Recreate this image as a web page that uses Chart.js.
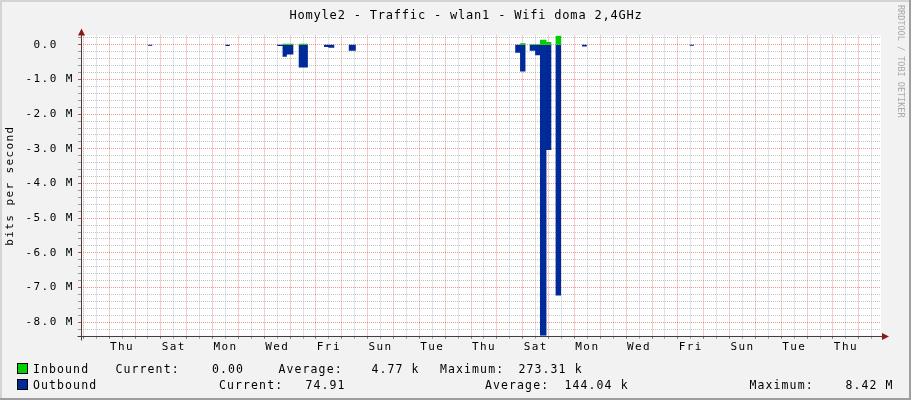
<!DOCTYPE html>
<html>
<head>
<meta charset="utf-8">
<title>Homyle2 - Traffic - wlan1</title>
<script src="https://cdn.jsdelivr.net/npm/chart.js@4.4.1/dist/chart.umd.min.js"></script>
<style>
  html, body { margin: 0; padding: 0; background: #f2f2f2; }
  #wrap { position: relative; width: 911px; height: 400px; }
</style>
</head>
<body>
<div id="wrap"><canvas id="traffic" width="911" height="400"></canvas></div>
<script>
// x is in hours counted from the first midnight (a Wednesday); ~31 days shown
const X_MIN = -2.14;
const X_MAX = 740.6;
const Y_MIN = -8.39e6;
const Y_MAX = 0.2733e6;
const Y_STEP = 200000;

// one label every second day, centred on noon
const DAY_LABELS = ['Thu', 'Sat', 'Mon', 'Wed', 'Fri', 'Sun', 'Tue', 'Thu', 'Sat', 'Mon', 'Wed', 'Fri', 'Sun', 'Tue', 'Thu'];

// Inbound, bits/s, each value held from start hour to end hour
const IN_START = [185, 200, 405.5, 414.5, 424, 430, 438.5];
const IN_END   = [195, 208.5, 410.5, 424, 430, 434.5, 443.5];
const IN_VALUE = [30000, 30000, 50000, 20000, 150000, 80000, 273310];

// Outbound, bits/s, drawn below zero
const OUT_START = [60, 132, 180, 185, 189, 200, 223.5, 227.5, 246.5, 401, 405.5, 414.5, 419.5, 424, 430, 438.5, 463, 563];
const OUT_END   = [64, 136, 185, 189, 195, 208.5, 227.5, 233, 253, 405.5, 410.5, 419.5, 424, 430, 434.5, 443.5, 467.5, 567];
const OUT_VALUE = [-25000, -30000, -30000, -340000, -280000, -650000, -60000, -85000, -170000,
                   -230000, -770000, -170000, -300000, -8420000, -3030000, -7230000, -50000, -25000];

const TITLE = 'Homyle2 - Traffic - wlan1 - Wifi doma 2,4GHz';
const LEGEND_IN  = ['Inbound', 'Current:', '0.00', 'Average:', '4.77 k', 'Maximum:', '273.31 k'];
const LEGEND_OUT = ['Outbound', 'Current:', '74.91', 'Average:', '144.04 k', 'Maximum:', '8.42 M'];

// layout of the rrdtool style legend (left edge of each text piece)
const LEGEND_IN_X  = [33, 115.5, 212, 278.5, 371.5, 440, 518.5];
const LEGEND_OUT_X = [33, 219, 305.5, 485, 564.5, 749.5, 845.5];

const FONT = 'DejaVu Sans Mono';
const IN_COLOR = '#00CF00';
const OUT_COLOR = '#002A97';
const MAJOR = 'rgba(232,80,80,0.6)';
const MINOR = 'rgba(140,140,140,0.5)';

function stepPoints(starts, ends, values) {
  const pts = [{ x: X_MIN, y: 0 }];
  starts.forEach((s, i) => {
    pts.push({ x: s, y: 0 }, { x: s, y: values[i] }, { x: ends[i], y: values[i] }, { x: ends[i], y: 0 });
  });
  pts.push({ x: X_MAX, y: 0 });
  return pts;
}

const isMillion = v => Math.abs(v / 1e6 - Math.round(v / 1e6)) < 1e-6;

const rrdLook = {
  id: 'rrdLook',
  beforeDraw(chart) {
    const { ctx, width, height, chartArea: a } = chart;
    ctx.save();
    ctx.fillStyle = '#f2f2f2';
    ctx.fillRect(0, 0, width, height);
    ctx.fillStyle = '#d4d4d4';
    ctx.fillRect(0, 0, width, 2);
    ctx.fillRect(0, 0, 2, height);
    ctx.fillStyle = '#9e9e9e';
    ctx.fillRect(width - 2, 0, 2, height);
    ctx.fillRect(0, height - 2, width, 2);
    ctx.fillStyle = '#ffffff';
    ctx.fillRect(a.left, a.top, a.right - a.left, a.bottom - a.top);
    ctx.restore();
    ctx.letterSpacing = '1.4px';
  },
  afterDraw(chart) {
    const { ctx, width, chartArea: a } = chart;
    ctx.letterSpacing = '0px';
    ctx.save();
    // axes with arrows
    const ax = Math.round(a.left) + 0.5;
    const ay = Math.round(a.bottom) + 0.5;
    ctx.strokeStyle = '#404040';
    ctx.lineWidth = 1;
    ctx.beginPath();
    ctx.moveTo(ax, a.top - 2);
    ctx.lineTo(ax, ay + 4);
    ctx.moveTo(ax - 4, ay);
    ctx.lineTo(a.right + 2, ay);
    ctx.stroke();
    ctx.fillStyle = '#8b1a1a';
    ctx.beginPath();
    ctx.moveTo(ax, a.top - 7);
    ctx.lineTo(ax - 3.5, a.top);
    ctx.lineTo(ax + 3.5, a.top);
    ctx.closePath();
    ctx.fill();
    ctx.beginPath();
    ctx.moveTo(a.right + 8, ay);
    ctx.lineTo(a.right + 1, ay - 3.5);
    ctx.lineTo(a.right + 1, ay + 3.5);
    ctx.closePath();
    ctx.fill();

    // title
    ctx.fillStyle = '#000';
    ctx.textBaseline = 'alphabetic';
    ctx.textAlign = 'left';
    ctx.font = '12px "' + FONT + '"';
    ctx.letterSpacing = '0.8px';
    ctx.fillText(TITLE, 289.5, 18.5);

    // legend
    ctx.font = '11.5px "' + FONT + '"';
    ctx.letterSpacing = '1.1px';
    [[LEGEND_IN, LEGEND_IN_X, IN_COLOR, 373], [LEGEND_OUT, LEGEND_OUT_X, OUT_COLOR, 389]].forEach(([txt, xs, col, base]) => {
      ctx.fillStyle = col;
      ctx.fillRect(18, base - 9, 9, 9);
      ctx.strokeStyle = '#000';
      ctx.strokeRect(17.5, base - 9.5, 10, 10);
      ctx.fillStyle = '#000';
      txt.forEach((t, i) => ctx.fillText(t, xs[i], base));
    });

    // watermark
    ctx.letterSpacing = '0px';
    ctx.font = '8.5px "' + FONT + '"';
    ctx.fillStyle = '#a8a8a8';
    ctx.translate(width - 11, 5);
    ctx.rotate(Math.PI / 2);
    ctx.textBaseline = 'middle';
    ctx.fillText('RRDTOOL / TOBI OETIKER', 0, 0);
    ctx.restore();
  }
};

new Chart(document.getElementById('traffic').getContext('2d'), {
  type: 'line',
  data: {
    datasets: [
      { label: 'Inbound', data: stepPoints(IN_START, IN_END, IN_VALUE), backgroundColor: IN_COLOR, fill: 'origin' },
      { label: 'Outbound', data: stepPoints(OUT_START, OUT_END, OUT_VALUE), backgroundColor: OUT_COLOR, fill: 'origin' },
    ],
  },
  options: {
    responsive: false, animation: false, events: [],
    layout: { padding: { left: 0, top: 35.4, right: 30, bottom: 44.3 } },
    elements: { point: { radius: 0 }, line: { borderWidth: 0, tension: 0 } },
    plugins: { legend: { display: false }, tooltip: { enabled: false }, title: { display: false } },
    scales: {
      x: {
        type: 'linear', min: X_MIN, max: X_MAX,
        afterFit: s => { s.height = 20; },
        border: { display: false, dash: [1, 1] },
        grid: {
          tickLength: 3,
          color: c => (Math.round(c.tick.value) % 24 === 0 ? MAJOR : MINOR),
          tickColor: c => (Math.round(c.tick.value) % 24 === 0 ? '#c05050' : '#999'),
        },
        ticks: {
          stepSize: 12, autoSkip: false, maxRotation: 0, includeBounds: false, padding: 2,
          color: '#000', font: { family: FONT, size: 11 },
          callback: v => ((v - 36) % 48 === 0 ? DAY_LABELS[(v - 36) / 48] : ''),
        },
      },
      y: {
        min: Y_MIN, max: Y_MAX,
        afterFit: s => { s.width = 81; },
        // 0.2 M grid; the library's own step would be shifted to the bounds here
        afterBuildTicks: s => {
          const ticks = [];
          for (let v = Math.ceil(Y_MIN / Y_STEP) * Y_STEP; v <= Y_MAX; v += Y_STEP) ticks.push({ value: Math.round(v) });
          s.ticks = ticks;
        },
        border: { display: false, dash: [1, 1] },
        grid: {
          tickLength: 3,
          color: c => (isMillion(c.tick.value) ? MAJOR : MINOR),
          tickColor: c => (isMillion(c.tick.value) ? '#c05050' : '#999'),
        },
        title: { display: true, text: 'bits per second', color: '#000', font: { family: FONT, size: 11 }, padding: { top: 4, bottom: 0 } },
        ticks: {
          autoSkip: false, padding: 4.3,
          color: '#000', font: { family: FONT, size: 11 },
          callback: v => {
            if (!isMillion(v)) return '';
            const m = Math.round(v / 1e6);
            return m === 0 ? '0.0  ' : m.toFixed(1) + ' M';
          },
        },
      },
    },
  },
  plugins: [rrdLook],
});
</script>
</body>
</html>
